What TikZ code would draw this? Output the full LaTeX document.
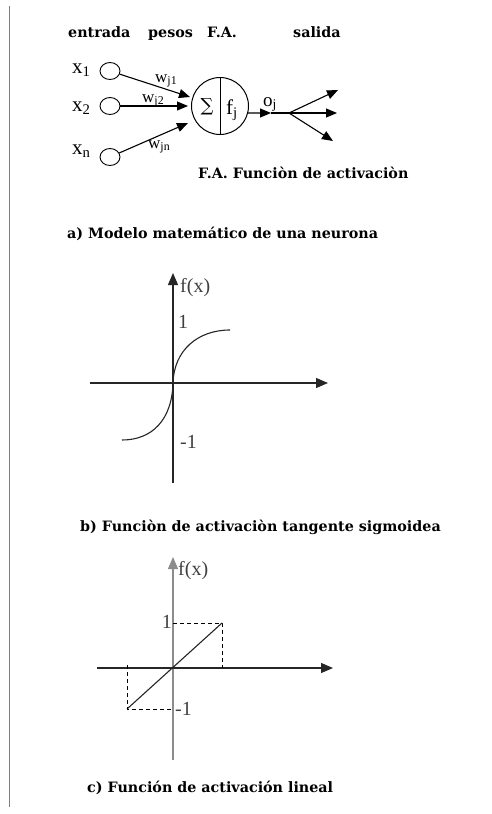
\documentclass[tikz,border=0pt]{standalone}
\usepackage{fontspec}
\setmainfont{Liberation Serif}
\newfontfamily\capfont{DejaVu Serif}
\usetikzlibrary{arrows.meta,shapes.geometric}
\tikzset{
  captxt/.style={font=\capfont\bfseries\fontsize{14.3}{14.3}\selectfont, inner sep=0pt, anchor=base west},
  lab/.style={font=\fontsize{21}{21}\selectfont, inner sep=0pt, anchor=base west},
  wlab/.style={font=\fontsize{17}{17}\selectfont, inner sep=0pt, anchor=base west},
  glab/.style={font=\fontsize{20}{20}\selectfont, inner sep=0pt, text=black!75, anchor=base west},
  inc/.style={draw, ellipse, minimum width=20pt, minimum height=17pt, inner sep=0pt, line width=0.9pt},
  arr/.style={-{Triangle[length=11pt,width=9pt]}, line width=1.1pt},
  axarr/.style={-{Triangle[length=12pt,width=10pt]}, line width=1.2pt},
}
\begin{document}
\begin{tikzpicture}[x=1pt,y=-1pt]
\useasboundingbox (0,0) rectangle (491,814);
\fill[white] (0,0) rectangle (491,814);
% left margin line
\coordinate (lt) at (9,6);
\coordinate (lb) at (9,807);
\draw[black!50, line width=1pt] (lt) -- (lb);

% header row
\node[captxt] (h1) at (68,37) {entrada};
\node[captxt] (h2) at (148,37) {pesos};
\node[captxt] (h3) at (207,37) {F.A.};
\node[captxt] (h4) at (293,37) {salida};

% inputs
\node[inc] (i1) at (110,71) {};
\node[inc] (i2) at (110,106) {};
\node[inc] (in) at (110,157) {};
\node[lab] (lx1) at (72,73) {x\textsubscript{1}};
\node[lab] (lx2) at (72,111) {x\textsubscript{2}};
\node[lab] (lxn) at (72,154) {x\textsubscript{n}};

% neuron
\node[draw, circle, minimum size=57pt, inner sep=0pt, line width=1pt] (N) at (220,106) {};
\draw[line width=1pt] (N.north) -- (N.south);
\node[inner sep=0pt, font=\capfont\fontsize{18}{18}\selectfont] (sig) at (207,107) {∑};
\node[lab] (fj) at (226,114) {f\textsubscript{j}};

\coordinate (t1) at (190,97);
\coordinate (t2) at (188,106);
\coordinate (tn) at (188,123);
\draw[arr] (i1) -- (t1);
\draw[arr] (i2) -- (t2);
\draw[arr] (in) -- (tn);
\node[wlab] (w1) at (155,82) {w\textsubscript{j1}};
\node[wlab] (w2) at (142,102) {w\textsubscript{j2}};
\node[wlab] (wn) at (148,148) {w\textsubscript{jn}};

% output
\coordinate (oj) at (271,113);
\coordinate (hub) at (289,113);
\coordinate (o1) at (338,90);
\coordinate (o2) at (337,113);
\coordinate (o3) at (333,141);
\draw[arr] (N.-14) -- (oj);
\draw[line width=1.1pt] (oj) -- (hub);
\draw[arr] (hub) -- (o1);
\draw[arr] (hub) -- (o2);
\draw[arr] (hub) -- (o3);
\node[wlab, font=\fontsize{19}{19}\selectfont] (ojl) at (263,106) {o\textsubscript{j}};

\node[captxt] (fa) at (198,178) {F.A. Funciòn de activaciòn};
\node[captxt] (ca) at (67,238) {a) Modelo matemático de una neurona};

% sigmoid plot
\coordinate (sy0) at (173,483);
\coordinate (sy1) at (173,273);
\coordinate (sx0) at (90,383);
\coordinate (sx1) at (328,383);
\coordinate (so) at (173,383);
\draw[axarr, black!85] (sy0) -- (sy1);
\draw[axarr, black!85] (sx0) -- (sx1);
\draw[line width=1.1pt, black!85] (so) .. controls (174,350) and (198,330) .. (230,330);
\draw[line width=1.1pt, black!85] (so) .. controls (172,420) and (152,440) .. (122,440);
\node[glab] (sf) at (180,292) {f(x)};
\node[glab] (s1) at (178,328) {1};
\node[glab] (sm1) at (180,448) {-1};

\node[captxt] (cb) at (80,531) {b) Funciòn de activaciòn tangente sigmoidea};

% linear plot
\coordinate (ly0) at (173,760);
\coordinate (ly1) at (173,557);
\coordinate (lx0) at (97,668);
\coordinate (lx1) at (333,668);
\coordinate (lp) at (222,623);
\coordinate (lq) at (127,709);
\coordinate (ly1a) at (173,623);
\coordinate (lxa) at (222,668);
\coordinate (lxb) at (127,665);
\coordinate (lym) at (173,709);
\draw[axarr, black!45] (ly0) -- (ly1);
\draw[axarr, black!85] (lx0) -- (lx1);
\draw[line width=1.1pt, black!85] (lq) -- (lp);
\draw[line width=0.9pt, dash pattern=on 4pt off 3pt] (ly1a) -- (lp) -- (lxa);
\draw[line width=0.9pt, dash pattern=on 4pt off 3pt] (lxb) -- (lq) -- (lym);
\node[glab] (lf) at (178,575) {f(x)};
\node[glab, anchor=base east] (l1) at (172,628) {1};
\node[glab] (lm1) at (175,715) {-1};

\node[captxt] (cc) at (87,792) {c) Función de activación lineal};
\end{tikzpicture}
\end{document}
